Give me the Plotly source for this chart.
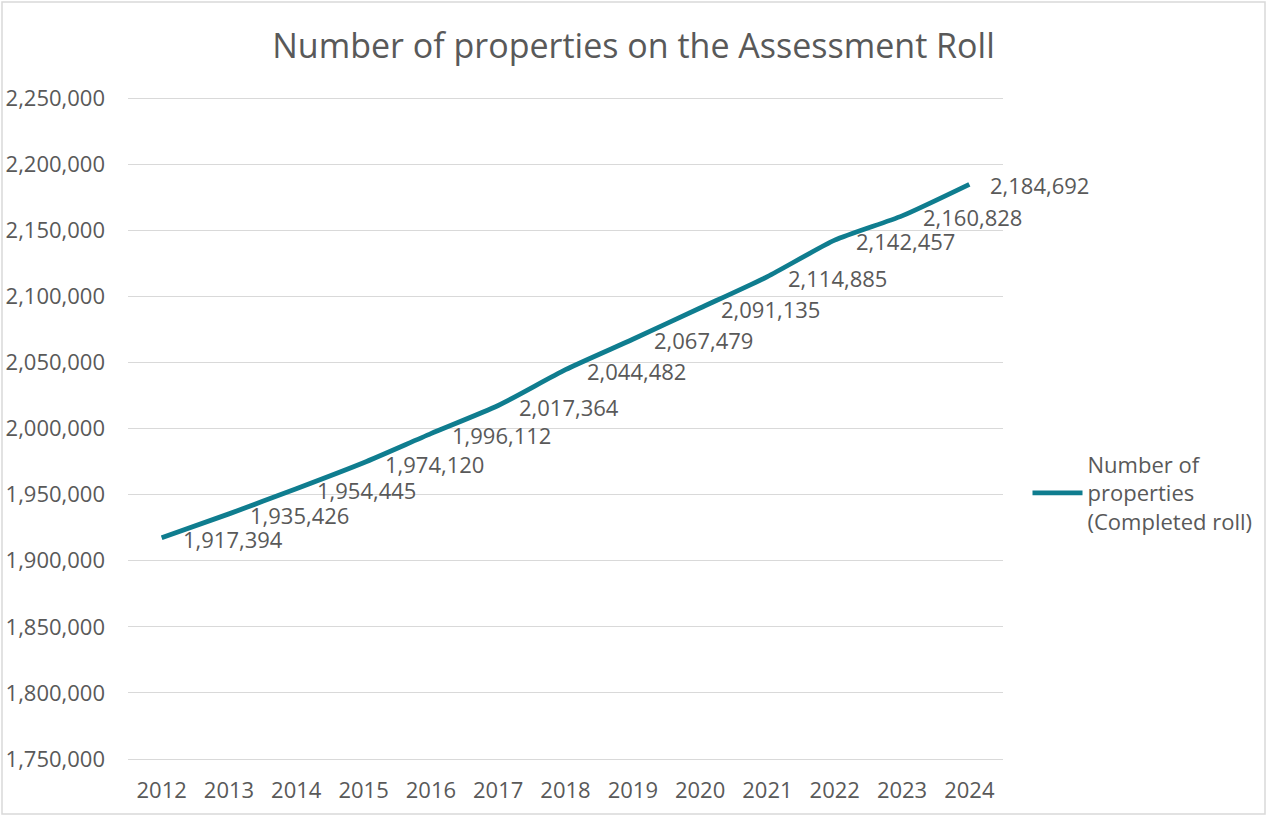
import plotly.graph_objects as go

years = ["2012", "2013", "2014", "2015", "2016", "2017", "2018",
         "2019", "2020", "2021", "2022", "2023", "2024"]
properties = [1917394, 1935426, 1954445, 1974120, 1996112, 2017364, 2044482,
              2067479, 2091135, 2114885, 2142457, 2160828, 2184692]
y_ticks = list(range(1750000, 2250001, 50000))

W, H = 1267, 816
ML, MR, MT, MB = 128, 264, 96, 55
LINE = "#0f7d8f"
TXT = "#595959"
FONT = "Open Sans"
FS = 22

# pad the value range by ~2px each side so the outer gridlines are drawn
ph = H - MT - MB
per_px = (y_ticks[-1] - y_ticks[0]) / (ph - 4)
y_range = [y_ticks[0] - 2 * per_px, y_ticks[-1] + 2 * per_px]

fig = go.Figure()
fig.add_trace(go.Scatter(
    x=years, y=properties, mode="lines",
    line=dict(color=LINE, width=4.8, shape="spline", smoothing=0.6),
    name="Number of<br>properties<br>(Completed roll)",
))

# value labels to the right of each point (x as category index)
for i, v in enumerate(properties):
    fig.add_annotation(
        x=i, y=v, xref="x", yref="y", text=f"{v:,}", showarrow=False,
        xanchor="left", yanchor="middle", xshift=19, yshift=-1,
        font=dict(family=FONT, size=FS, color=TXT),
    )

# outer chart border
pw = W - ML - MR
fig.add_shape(
    type="rect", xref="paper", yref="paper",
    x0=(2 - ML) / pw, x1=(W - 2 - ML) / pw,
    y0=-(H - 2 - MT - ph) / ph, y1=(MT - 2 + ph) / ph,
    line=dict(color="#d9d9d9", width=1.5), fillcolor="rgba(0,0,0,0)",
    layer="below",
)

fig.update_layout(
    width=W, height=H,
    margin=dict(l=ML, r=MR, t=MT, b=MB, autoexpand=False),
    paper_bgcolor="white", plot_bgcolor="white",
    title=dict(text="Number of properties on the Assessment Roll",
               x=0.5, xanchor="center", y=1 - 46 / H, yanchor="middle",
               font=dict(family=FONT, size=34, color=TXT)),
    font=dict(family=FONT, size=FS, color=TXT),
    showlegend=True,
    legend=dict(x=1.028, y=1 - (493 - MT) / ph, xanchor="left", yanchor="middle",
                font=dict(family=FONT, size=FS, color=TXT),
                itemwidth=50, bgcolor="rgba(0,0,0,0)"),
    xaxis=dict(type="category", range=[-0.5, 12.5], showgrid=False,
               showline=False, zeroline=False, ticks="", automargin=False,
               ticklabelstandoff=14,
               tickfont=dict(family=FONT, size=FS, color=TXT)),
    yaxis=dict(range=y_range, tickvals=y_ticks,
               tickformat=",d", showgrid=True, gridcolor="#d9d9d9",
               gridwidth=1.3, zeroline=False, showline=False, ticks="",
               ticklabelstandoff=22, automargin=False,
               tickfont=dict(family=FONT, size=FS, color=TXT)),
)

fig.write_html("out.html")
